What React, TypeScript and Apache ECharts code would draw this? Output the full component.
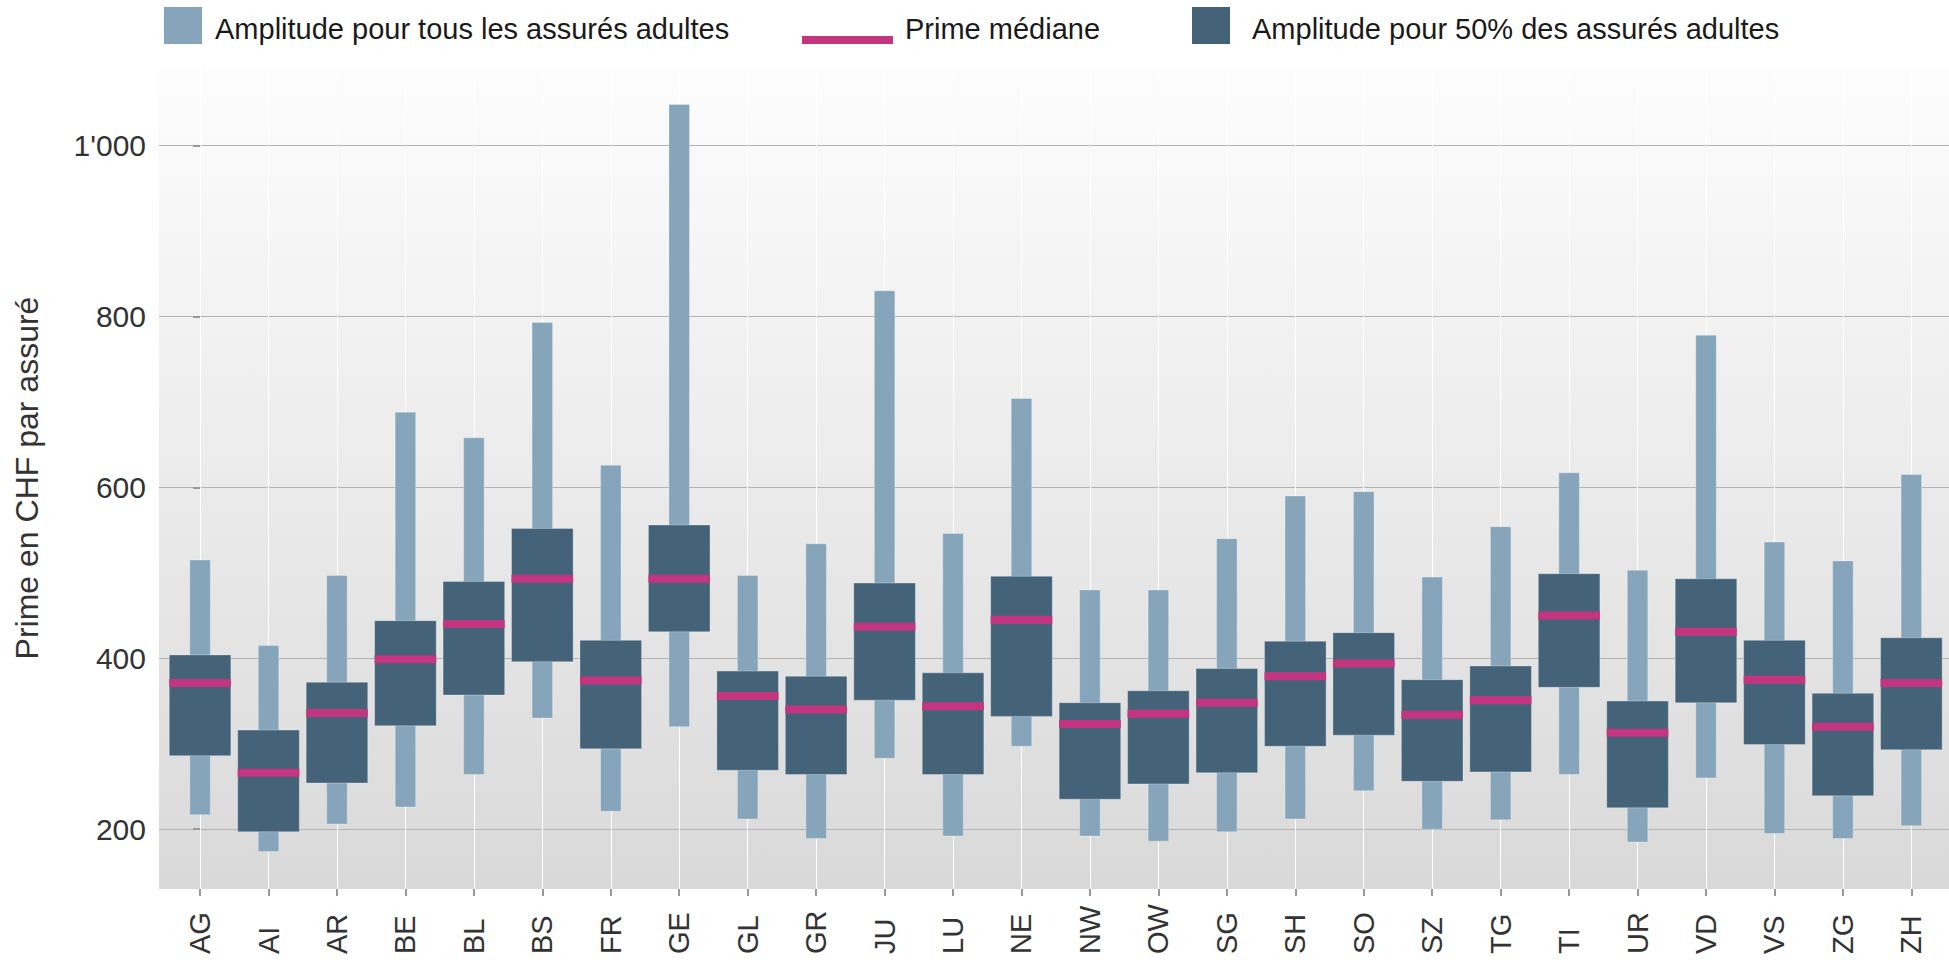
import React, { useEffect, useRef } from "react";
import * as echarts from "echarts";

const cantons = ["AG","AI","AR","BE","BL","BS","FR","GE","GL","GR","JU","LU","NE","NW","OW","SG","SH","SO","SZ","TG","TI","UR","VD","VS","ZG","ZH"];
const minAll = [217,174,206,226,264,330,221,320,212,189,283,192,297,192,186,197,212,245,200,211,264,185,260,195,189,204];
const maxAll = [515,415,497,688,658,793,626,1048,497,534,830,546,704,480,480,540,590,595,495,554,617,503,778,536,514,615];
const q25 = [286,197,254,321,357,396,294,431,269,264,351,264,332,235,253,266,297,310,256,267,366,225,348,299,239,293];
const q75 = [404,316,372,444,490,552,421,556,385,379,488,383,496,348,362,388,420,430,375,391,499,350,493,421,359,424];
const median = [371,266,336,399,440,493,374,493,356,340,437,344,445,323,335,348,379,394,334,351,450,313,431,375,320,371];
const yTicks = [200, 400, 600, 800, 1000];

const legendNames = [
  "Amplitude pour tous les assurés adultes",
  "Prime médiane",
  "Amplitude pour 50% des assurés adultes",
];

const FONT = "'Liberation Sans', Arial, Helvetica, sans-serif";
const LIGHT = "#86a5ba";
const DARK = "#446379";
const MAG = "#c4357f";

const fmtThousands = (v: number) => String(v).replace(/\B(?=(\d{3})+(?!\d))/g, "'");

export default function App() {
  const ref = useRef<HTMLDivElement>(null);
  useEffect(() => {
    if (!ref.current) return;
    const chart = echarts.init(ref.current, null, { renderer: "svg" });
    const idx = cantons.map((_, i) => i);

    const rangeData = cantons.map((_, i) => [i, minAll[i], maxAll[i]]);
    const boxData = cantons.map((_, i) => [i, q25[i], q75[i]]);
    const medData = cantons.map((_, i) => [i, median[i]]);

    const rectItem = (half: number, fill: string) => (params: any, api: any) => {
      const x = api.value(0);
      const lo = api.value(1);
      const hi = api.value(2);
      const p1 = api.coord([x - half, hi]);
      const p2 = api.coord([x + half, lo]);
      return {
        type: "rect",
        shape: { x: p1[0], y: p1[1], width: p2[0] - p1[0], height: p2[1] - p1[1] },
        style: { fill, stroke: "rgba(255,255,255,0.3)", lineWidth: 1 },
      };
    };

    const option: any = {
      animation: false,
      textStyle: { fontFamily: FONT },
      grid: {
        left: 159,
        right: 0,
        top: 67,
        bottom: 71,
        show: true,
        borderWidth: 0,
        backgroundColor: new echarts.graphic.LinearGradient(0, 0, 0, 1, [
          { offset: 0, color: "#fdfdfd" },
          { offset: 1, color: "#d9d9d9" },
        ]),
      },
      xAxis: {
        type: "value",
        min: -0.6,
        max: 25.55,
        axisLine: { show: false },
        axisTick: { show: true, customValues: idx, length: 7, lineStyle: { color: "#999", width: 2 } },
        axisLabel: {
          customValues: idx,
          formatter: (v: number) => cantons[Math.round(v)] ?? "",
          rotate: 90,
          align: "left",
          verticalAlign: "middle",
          margin: 65,
          fontSize: 29,
          color: "#333",
          fontFamily: FONT,
        },
        splitLine: { show: true, lineStyle: { color: "#ffffff", width: 1 } },
      },
      yAxis: {
        type: "value",
        min: 130,
        max: 1092,
        name: "Prime en CHF par assuré",
        nameLocation: "middle",
        nameGap: 116,
        nameRotate: 90,
        nameTextStyle: { fontSize: 32, color: "#333", fontFamily: FONT },
        axisLine: { show: false },
        axisTick: { show: true, customValues: yTicks, length: 7, lineStyle: { color: "#999", width: 2 } },
        axisLabel: {
          customValues: yTicks,
          formatter: (v: number) => fmtThousands(v),
          fontSize: 30,
          color: "#333",
          margin: 13,
          fontFamily: FONT,
        },
        splitLine: { show: true, lineStyle: { color: "#b3b3b3", width: 1 } },
      },
      series: [
        {
          name: legendNames[0],
          type: "custom",
          data: rangeData,
          encode: { x: 0, y: [1, 2] },
          renderItem: rectItem(0.15, LIGHT),
        },
        {
          name: legendNames[2],
          type: "custom",
          data: boxData,
          encode: { x: 0, y: [1, 2] },
          renderItem: rectItem(0.45, DARK),
        },
        {
          name: legendNames[1],
          type: "custom",
          data: medData,
          encode: { x: 0, y: 1 },
          renderItem: (params: any, api: any) => {
            const x = api.value(0);
            const m = api.value(1);
            const a = api.coord([x - 0.45, m]);
            const b = api.coord([x + 0.45, m]);
            return {
              type: "rect",
              shape: { x: a[0], y: a[1] - 4, width: b[0] - a[0], height: 8 },
              style: { fill: MAG },
            };
          },
        },
      ],
      graphic: [
        { type: "rect", left: 164, top: 7, shape: { width: 38, height: 37 }, style: { fill: LIGHT } },
        {
          type: "text", left: 215, top: 14,
          style: { text: legendNames[0], fontSize: 29, fill: "#1a1a1a", fontFamily: FONT },
        },
        { type: "rect", left: 802, top: 36, shape: { width: 91, height: 8 }, style: { fill: MAG } },
        {
          type: "text", left: 905, top: 14,
          style: { text: legendNames[1], fontSize: 29, fill: "#1a1a1a", fontFamily: FONT },
        },
        { type: "rect", left: 1192, top: 7, shape: { width: 38, height: 37 }, style: { fill: DARK } },
        {
          type: "text", left: 1252, top: 14,
          style: { text: legendNames[2], fontSize: 29, fill: "#1a1a1a", fontFamily: FONT },
        },
      ],
    };
    chart.setOption(option);
    return () => chart.dispose();
  }, []);

  return (
    <div
      ref={ref}
      style={{ position: "fixed", left: 0, top: 0, width: 1949, height: 960, background: "#ffffff" }}
    />
  );
}
